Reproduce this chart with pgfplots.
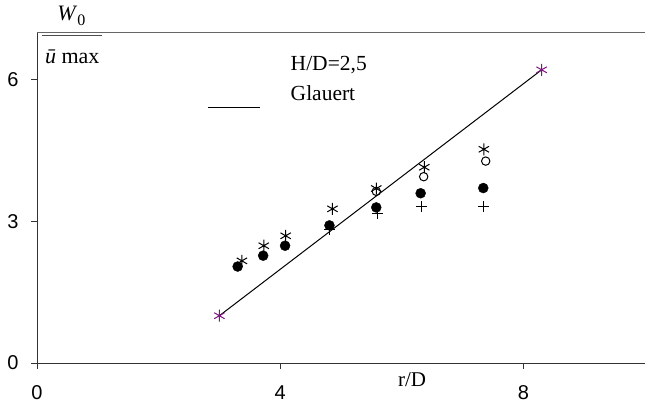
\documentclass[border=0pt]{standalone}
\usepackage{fontspec}
\setmainfont{Liberation Serif}
\newfontfamily\arialfont{Liberation Sans}
\usepackage{pgfplots}
\pgfplotsset{compat=1.18}
\usetikzlibrary{plotmarks}
\definecolor{mkpurple}{RGB}{128,20,128}
\begin{document}
\begin{tikzpicture}[x=1pt,y=1pt]
\useasboundingbox (-37,-44) rectangle (608,363);
\begin{axis}[at={(0,0)}, anchor=south west, scale only axis,
  width=608pt, height=331pt,
  xmin=0, xmax=10, ymin=0, ymax=7,
  axis x line*=bottom, axis y line*=left,
  axis line style={-, draw=black!80, line width=0.8pt},
  xtick={0,4,8}, ytick={0,3,6},
  tick align=outside, major tick length=6pt,
  tick style={draw=black!80, line width=0.7pt},
  ticklabel style={font=\arialfont\fontsize{20}{22}\selectfont, inner sep=0pt},
  /pgf/number format/assume math mode=true,
  xticklabel style={anchor=center, yshift=-24pt},
  yticklabel style={anchor=center, xshift=-18pt},
  clip=false]
% top frame line
\draw[black!60, line width=0.8pt] (rel axis cs:0,1) -- (rel axis cs:1,1);
% filled circles
\addplot[only marks, mark=*, mark size=5pt, black] coordinates {
(3.30,2.04) (3.72,2.27) (4.08,2.48) (4.81,2.91) (5.58,3.29) (6.31,3.59) (7.34,3.70)};
% asterisks
\addplot[only marks, mark=asterisk, mark size=6pt, black, line width=1pt] coordinates {
(3.37,2.16) (3.73,2.48) (4.09,2.69) (4.86,3.26) (5.58,3.69) (6.37,4.14) (7.35,4.52)};
% open circles
\addplot[only marks, mark=o, mark size=4.2pt, black, line width=1pt] coordinates {
(5.58,3.63) (6.36,3.94) (7.38,4.27)};
% plus
\addplot[only marks, mark=+, mark size=5.5pt, black, line width=1pt] coordinates {
(4.81,2.83) (5.60,3.16) (6.33,3.30) (7.34,3.30)};
% Glauert
\addplot[black, line width=1pt, mark=asterisk, mark size=6pt,
  mark options={mkpurple, line width=1pt}] coordinates {(3,1) (8.3,6.2)};
% legend
\node[anchor=west, inner sep=0pt, font=\fontsize{21.5}{23}\selectfont] at (axis cs:4.17,6.30) {H/D=2,5};
\node[anchor=west, inner sep=0pt, font=\fontsize{21.5}{23}\selectfont] at (axis cs:4.17,5.71) {Glauert};
\draw[black, line width=1pt] (axis cs:2.82,5.41) -- (axis cs:3.67,5.41);
% axis labels
\node[font=\fontsize{21}{23}\selectfont] at (axis cs:6.17,-0.36) {r/D};
\node[anchor=base west, inner sep=0pt, font=\fontsize{22}{24}\selectfont] at (axis cs:0.33,7.25)
  {\textit{W}\raisebox{-5pt}{\fontsize{16}{16}\selectfont 0}};
\draw[black!70, line width=1.1pt] (axis cs:0.08,6.92) -- (axis cs:1.07,6.92);
\node[anchor=base west, inner sep=0pt, font=\fontsize{22}{24}\selectfont] at (axis cs:0.13,6.34)
  {\textit{ū} max};
\end{axis}
\end{tikzpicture}
\end{document}
